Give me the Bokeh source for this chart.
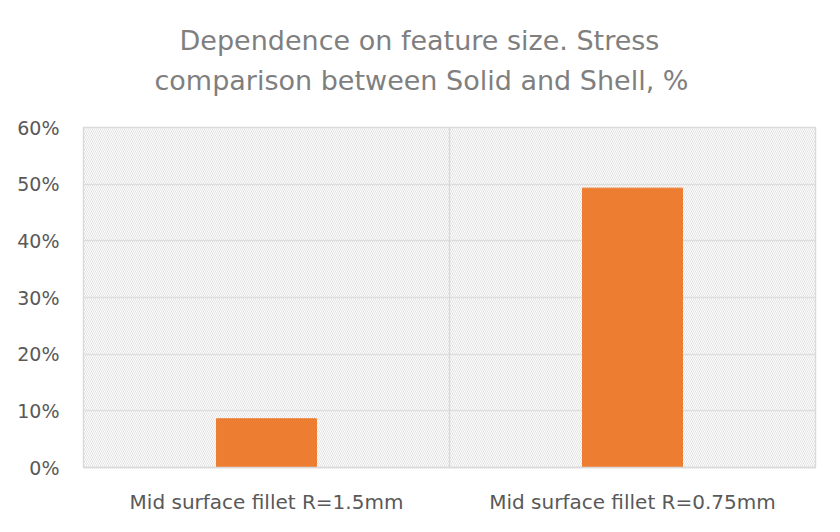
from bokeh.embed import file_html
from bokeh.models import BoxAnnotation, FixedTicker, Span, Title
from bokeh.plotting import figure
from bokeh.resources import INLINE

categories = ["Mid surface fillet R=1.5mm", "Mid surface fillet R=0.75mm"]
stress_diff = [0.086, 0.493]
y_ticks = [0.0, 0.1, 0.2, 0.3, 0.4, 0.5, 0.6]
title_lines = ["Dependence on feature size. Stress", "comparison between Solid and Shell, %"]

FONT = "DejaVu Sans"
GREY = "#d9d9d9"
TEXT = "#595959"

p = figure(
    x_range=categories,
    y_range=(0, 0.6),
    width=824,
    height=516,
    output_backend="svg",
    toolbar_location=None,
    min_border_left=83,
    min_border_right=9,
    min_border_top=0,
    min_border_bottom=46,
)

# hatched plot area
p.add_layout(BoxAnnotation(fill_alpha=0, line_alpha=0, hatch_pattern="left_diagonal_line",
                           hatch_color="#e2e2e2", hatch_scale=4, hatch_weight=1, level="underlay"))

p.vbar(x=categories, top=stress_diff, width=0.273, color="#ed7d31")

p.outline_line_color = GREY
p.outline_line_width = 1.5
p.xgrid.grid_line_color = None
p.ygrid.grid_line_color = GREY
p.ygrid.grid_line_width = 1.5
p.ygrid.ticker = FixedTicker(ticks=y_ticks)
p.add_layout(Span(location=1, dimension="height", line_color=GREY, line_width=1.5))

p.yaxis.ticker = FixedTicker(ticks=y_ticks)
p.yaxis.major_label_overrides = {t: f"{round(t * 100)}%" for t in y_ticks}
p.yaxis.axis_line_color = None
p.yaxis.major_tick_line_color = None
p.yaxis.minor_tick_line_color = None
p.yaxis.major_label_standoff = 18
p.yaxis.major_label_text_font_size = "19px"
p.xaxis.axis_line_color = GREY
p.xaxis.axis_line_width = 1.5
p.xaxis.major_tick_line_color = None
p.xaxis.major_label_standoff = 16
p.xaxis.major_label_text_font_size = "20px"
for ax in (p.xaxis, p.yaxis):
    ax.major_label_text_font = FONT
    ax.major_label_text_color = TEXT


def spacer(gap):
    # white dot on white: only there to reserve vertical room
    return Title(text=".", text_font_size="10px", text_color="white", standoff=gap)


# panels stack outward from the plot area: spacer, line 2, line 1, spacer
p.add_layout(spacer(22), "above")
for line, offset, standoff in ((title_lines[1], 71, 0), (title_lines[0], 96, 14)):
    p.add_layout(Title(text=line, align="left", offset=offset, standoff=standoff,
                       text_font=FONT, text_font_size="27px", text_font_style="normal",
                       text_color="#7f7f7f"), "above")
p.add_layout(spacer(5), "above")

open("out.html", "w").write(file_html(p, INLINE))
